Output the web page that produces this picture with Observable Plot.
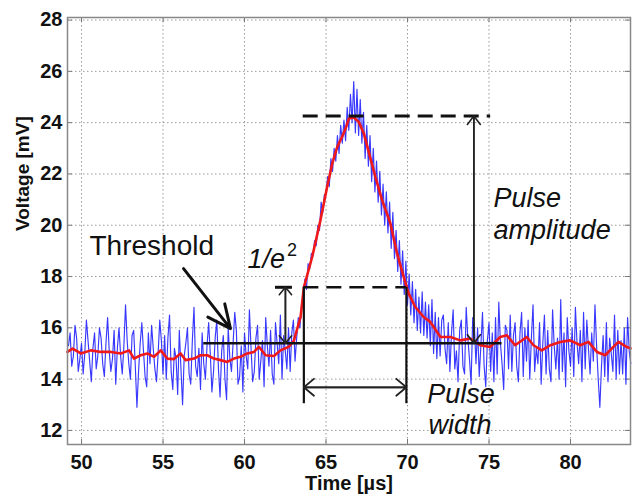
<!DOCTYPE html>
<html>
<head>
<meta charset="utf-8">
<script src="https://cdn.jsdelivr.net/npm/d3@7"></script>
<script src="https://cdn.jsdelivr.net/npm/@observablehq/plot@0.6"></script>
<style>
  html, body { margin: 0; padding: 0; background: #fff; }
  #chart { width: 632px; height: 498px; }
</style>
</head>
<body>
<div id="chart"></div>
<script>
// ---- axis ticks ----
const xTicks = [50, 55, 60, 65, 70, 75, 80];
const yTicks = [12, 14, 16, 18, 20, 22, 24, 26, 28];
const xDomain = [49.14, 83.68];
const yDomain = [11.45, 28.1];

// ---- raw (noisy) signal: samples every 0.1 µs starting at 49.2 µs ----
const rawStart = 49.2;
const rawStep = 0.1;
const rawV = [
  15.3,15.8,14.5,14.9,16.1,15.6,14.3,14.8,15.4,14.2,
  15.0,16.3,15.5,14.7,13.9,15.2,15.8,14.4,14.9,16.0,
  15.6,14.6,14.1,15.4,16.4,15.1,14.3,14.8,15.9,13.8,
  15.2,16.0,14.9,14.2,15.3,16.9,15.5,14.6,14.0,15.7,
  15.9,14.5,12.9,14.3,15.4,16.2,15.1,14.1,13.7,15.8,
  14.6,16.1,15.2,14.4,13.9,15.0,16.3,15.5,14.2,15.7,
  14.0,15.6,16.5,14.3,13.6,15.2,14.8,13.4,15.9,14.4,
  13.0,14.9,15.4,16.0,14.2,13.8,15.5,16.8,14.5,14.1,
  15.2,13.6,15.8,14.6,14.0,15.3,16.2,15.0,13.5,14.3,
  15.6,16.3,14.4,13.3,15.1,15.7,14.0,13.2,16.0,14.8,
  14.3,15.4,16.6,15.9,13.8,14.1,15.3,13.5,15.8,14.9,
  14.4,16.7,15.2,13.9,14.3,15.6,16.1,14.0,14.7,15.5,
  13.7,16.4,15.3,14.5,15.9,14.2,13.8,16.2,15.4,14.6,
  16.5,14.0,15.7,15.1,14.4,16.0,14.3,15.8,16.3,14.7,
  15.6,16.4,16.0,16.9,17.0,17.9,17.5,18.5,18.3,18.9,
  18.8,19.4,19.2,20.0,19.8,20.9,20.5,21.2,21.2,21.9,
  21.5,22.6,22.1,23.0,22.5,23.5,22.8,23.9,23.2,24.1,
  23.3,24.6,23.7,25.1,24.0,25.6,23.6,25.3,23.5,24.9,
  23.2,24.4,22.6,23.9,22.3,23.5,21.7,23.0,21.3,22.5,
  20.9,22.1,20.4,21.6,20.0,21.3,19.7,20.9,19.1,20.5,
  18.7,19.8,18.2,19.4,17.7,19.0,17.3,18.6,16.9,18.1,
  16.5,17.8,16.2,17.5,15.9,17.2,15.8,17.4,15.7,17.0,
  15.6,16.9,15.3,17.1,15.0,16.6,14.8,16.4,14.9,16.3,
  16.5,15.2,14.6,16.2,14.3,15.8,16.7,14.4,15.1,13.9,
  15.9,16.3,14.5,14.2,16.8,15.6,14.8,13.8,16.4,16.1,
  14.6,16.0,14.1,15.3,16.6,14.5,13.7,15.5,16.2,14.3,
  15.8,13.9,16.4,14.2,17.0,15.4,14.6,13.6,16.1,15.9,
  14.4,16.5,14.3,15.7,16.2,14.5,13.9,15.8,16.6,14.1,
  16.0,14.7,16.3,14.0,15.6,16.9,14.3,15.2,14.6,16.2,
  13.8,15.4,16.5,14.2,15.9,14.4,13.9,16.7,15.3,14.4,
  15.6,14.0,17.1,14.3,15.8,13.7,16.4,15.1,14.5,16.0,
  14.1,16.8,15.4,14.6,15.9,13.9,16.6,14.4,16.3,15.2,
  14.2,15.8,14.7,16.9,15.3,14.0,12.9,14.5,15.7,14.1,
  16.2,13.9,15.6,15.0,14.3,16.5,14.0,15.9,14.2,15.5,
  14.2,16.0,13.8,16.4,15.1,14.6
];

// ---- smoothed signal ----
const smoothT = [49.14,49.45,49.96,50.57,51.18,51.8,52.41,52.92,53.22,53.63,54.04,54.45,54.86,55.27,55.67,56.08,56.39,56.9,57.31,57.72,58.12,58.53,58.94,59.35,59.76,60.17,60.58,60.88,61.29,61.8,62.21,62.72,63.03,63.44,63.64,64.15,64.66,65.07,65.38,65.69,65.99,66.2,66.4,66.7,67.01,67.32,67.62,68.03,68.44,68.95,69.36,69.77,70.07,70.48,70.99,71.4,72.02,72.63,73.24,73.85,74.46,75.07,75.69,76.09,76.6,77.32,77.73,78.24,78.76,79.37,79.98,80.6,81.1,81.62,82.13,82.54,82.94,83.46,83.68];
const smoothV = [15.06,15.19,15.0,15.12,15.06,15.06,15.0,15.12,14.8,14.93,15.0,14.87,15.12,14.8,14.78,15.0,14.74,14.8,14.93,14.93,14.8,14.74,14.67,14.8,14.87,15.0,15.06,15.26,14.93,14.9,15.12,15.26,15.5,16.43,17.58,18.76,20.2,21.5,22.4,23.06,23.45,23.77,24.16,24.2,24.03,23.58,22.86,21.88,20.98,20.07,18.9,17.98,17.33,16.81,16.42,16.23,15.64,15.64,15.51,15.58,15.32,15.25,15.64,15.71,15.32,15.64,15.32,15.12,15.32,15.45,15.51,15.32,15.45,15.06,14.93,15.2,15.45,15.25,15.2];

// ---- annotation geometry (data units: µs, mV) ----
const peakLevel = 24.26;          // pulse amplitude top (dashed)
const peakSpan = [63.6, 75.1];
const thresholdLevel = 15.4;      // threshold (solid)
const thresholdSpan = [57.5, 75.8];
const e2Level = 17.58;            // 1/e^2 level (dashed)
const widthEdges = [63.64, 69.93];// pulse width edges
const edgeBottom = 13.04;
const widthArrowY = 13.68;
const amplitudeArrowX = 74.07;
const e2ArrowX = 62.51;
const e2CapSpan = [61.9, 62.94];
const thresholdPointer = [56.26, 18.31, 59.14, 15.97]; // x1, y1, x2, y2

// ---- text labels ----
const labelThreshold = {text: "Threshold", x: 50.49, y: 18.82};
const labelE2 = {text: "1/e", x: 60.18, y: 18.35};
const labelE2Sup = {text: "2", x: 62.6, y: 18.8};
const labelAmp = [{text: "Pulse", x: 75.28, y: 20.7}, {text: "amplitude", x: 75.28, y: 19.47}];
const labelWidth = [{text: "Pulse", x: 71.21, y: 13.06}, {text: "width", x: 71.29, y: 11.87}];
const xLabel = "Time [µs]";
const yLabel = "Voltage [mV]";

const raw = rawV.map((v, i) => ({t: rawStart + i * rawStep, v}));
const smooth = smoothT.map((t, i) => ({t, v: smoothV[i]}));

const W = 632, H = 498;
const mL = 67, mR = 2, mT = 17, mB = 54;
const innerW = W - mL - mR, innerH = H - mT - mB;
const tickLen = 5;
const ink = "#111";

const chart = Plot.plot({
  width: W,
  height: H,
  marginLeft: mL,
  marginRight: mR,
  marginTop: mT,
  marginBottom: mB,
  style: {fontFamily: "'Liberation Sans', Arial, Helvetica, sans-serif", background: "#fff", color: ink},
  x: {domain: xDomain},
  y: {domain: yDomain},
  marks: [
    Plot.gridX(xTicks, {stroke: "#9a9a9a", strokeOpacity: 1, strokeDasharray: "1.5,2.5"}),
    Plot.gridY(yTicks, {stroke: "#9a9a9a", strokeOpacity: 1, strokeDasharray: "1.5,2.5"}),
    // inward tick marks on all four sides
    Plot.tickX(xTicks, {x: d => d, insetTop: innerH - tickLen, stroke: "#777"}),
    Plot.tickX(xTicks, {x: d => d, insetBottom: innerH - tickLen, stroke: "#777"}),
    Plot.tickY(yTicks, {y: d => d, insetRight: innerW - tickLen, stroke: "#777"}),
    Plot.tickY(yTicks, {y: d => d, insetLeft: innerW - tickLen, stroke: "#777"}),
    Plot.axisX({ticks: xTicks, tickSize: 0, tickPadding: 10, fontSize: 20, fontWeight: "bold", label: null, tickFormat: d => String(d)}),
    Plot.axisY({ticks: yTicks, tickSize: 0, tickPadding: 5, fontSize: 20, fontWeight: "bold", label: null, tickFormat: d => String(d)}),
    Plot.text([xLabel], {frameAnchor: "bottom", lineAnchor: "bottom", dy: 45, fontSize: 20, fontWeight: "bold", fill: ink}),
    Plot.text([yLabel], {frameAnchor: "left", rotate: -90, dx: -45, fontSize: 19, fontWeight: "bold", fill: ink}),
    // signals
    Plot.line(raw, {x: "t", y: "v", stroke: "#0c0cff", strokeOpacity: 0.82, strokeWidth: 1.15}),
    Plot.line(smooth, {x: "t", y: "v", stroke: "#f01818", strokeWidth: 2.6}),
    // annotations
    Plot.ruleY([peakLevel], {x1: peakSpan[0], x2: peakSpan[1], stroke: ink, strokeWidth: 3, strokeDasharray: "15,8"}),
    Plot.ruleY([e2Level], {x1: widthEdges[0], x2: widthEdges[1], stroke: ink, strokeWidth: 2.6, strokeDasharray: "15,8"}),
    Plot.ruleY([thresholdLevel], {x1: thresholdSpan[0], x2: thresholdSpan[1], stroke: ink, strokeWidth: 2.6}),
    Plot.ruleX(widthEdges, {y1: edgeBottom, y2: e2Level, stroke: ink, strokeWidth: 2.2}),
    Plot.ruleY([e2Level], {x1: e2CapSpan[0], x2: e2CapSpan[1], stroke: ink, strokeWidth: 3}),
    // double arrows
    Plot.arrow([0], {x1: widthEdges[0], x2: widthEdges[1], y1: widthArrowY, y2: widthArrowY, stroke: "#222", strokeWidth: 1.8, headLength: 11, headAngle: 80}),
    Plot.arrow([0], {x1: widthEdges[1], x2: widthEdges[0], y1: widthArrowY, y2: widthArrowY, stroke: "#222", strokeWidth: 1.8, headLength: 11, headAngle: 80}),
    Plot.arrow([0], {x1: amplitudeArrowX, x2: amplitudeArrowX, y1: thresholdLevel, y2: peakLevel, stroke: "#222", strokeWidth: 1.6, headLength: 10, headAngle: 75}),
    Plot.arrow([0], {x1: amplitudeArrowX, x2: amplitudeArrowX, y1: peakLevel, y2: thresholdLevel, stroke: "#222", strokeWidth: 1.6, headLength: 10, headAngle: 75}),
    Plot.arrow([0], {x1: e2ArrowX, x2: e2ArrowX, y1: thresholdLevel, y2: e2Level, stroke: "#222", strokeWidth: 1.6, headLength: 9, headAngle: 80}),
    Plot.arrow([0], {x1: e2ArrowX, x2: e2ArrowX, y1: e2Level, y2: thresholdLevel, stroke: "#222", strokeWidth: 1.6, headLength: 9, headAngle: 80}),
    Plot.arrow([0], {x1: thresholdPointer[0], y1: thresholdPointer[1], x2: thresholdPointer[2], y2: thresholdPointer[3], stroke: ink, strokeWidth: 3, headLength: 15, headAngle: 50}),
    // text labels
    Plot.text([labelThreshold], {x: "x", y: "y", text: "text", textAnchor: "start", lineAnchor: "bottom", fontSize: 28, fill: ink}),
    Plot.text([labelE2], {x: "x", y: "y", text: "text", textAnchor: "start", lineAnchor: "bottom", fontSize: 27, fontStyle: "italic", fill: ink}),
    Plot.text([labelE2Sup], {x: "x", y: "y", text: "text", textAnchor: "start", lineAnchor: "bottom", fontSize: 18, fill: ink}),
    Plot.text(labelAmp, {x: "x", y: "y", text: "text", textAnchor: "start", lineAnchor: "bottom", fontSize: 27, fontStyle: "italic", fill: ink}),
    Plot.text(labelWidth, {x: "x", y: "y", text: "text", textAnchor: "start", lineAnchor: "bottom", fontSize: 27, fontStyle: "italic", fill: ink}),
    Plot.frame({stroke: "#888", strokeWidth: 1.5})
  ]
});

document.getElementById("chart").appendChild(chart);
</script>
</body>
</html>
